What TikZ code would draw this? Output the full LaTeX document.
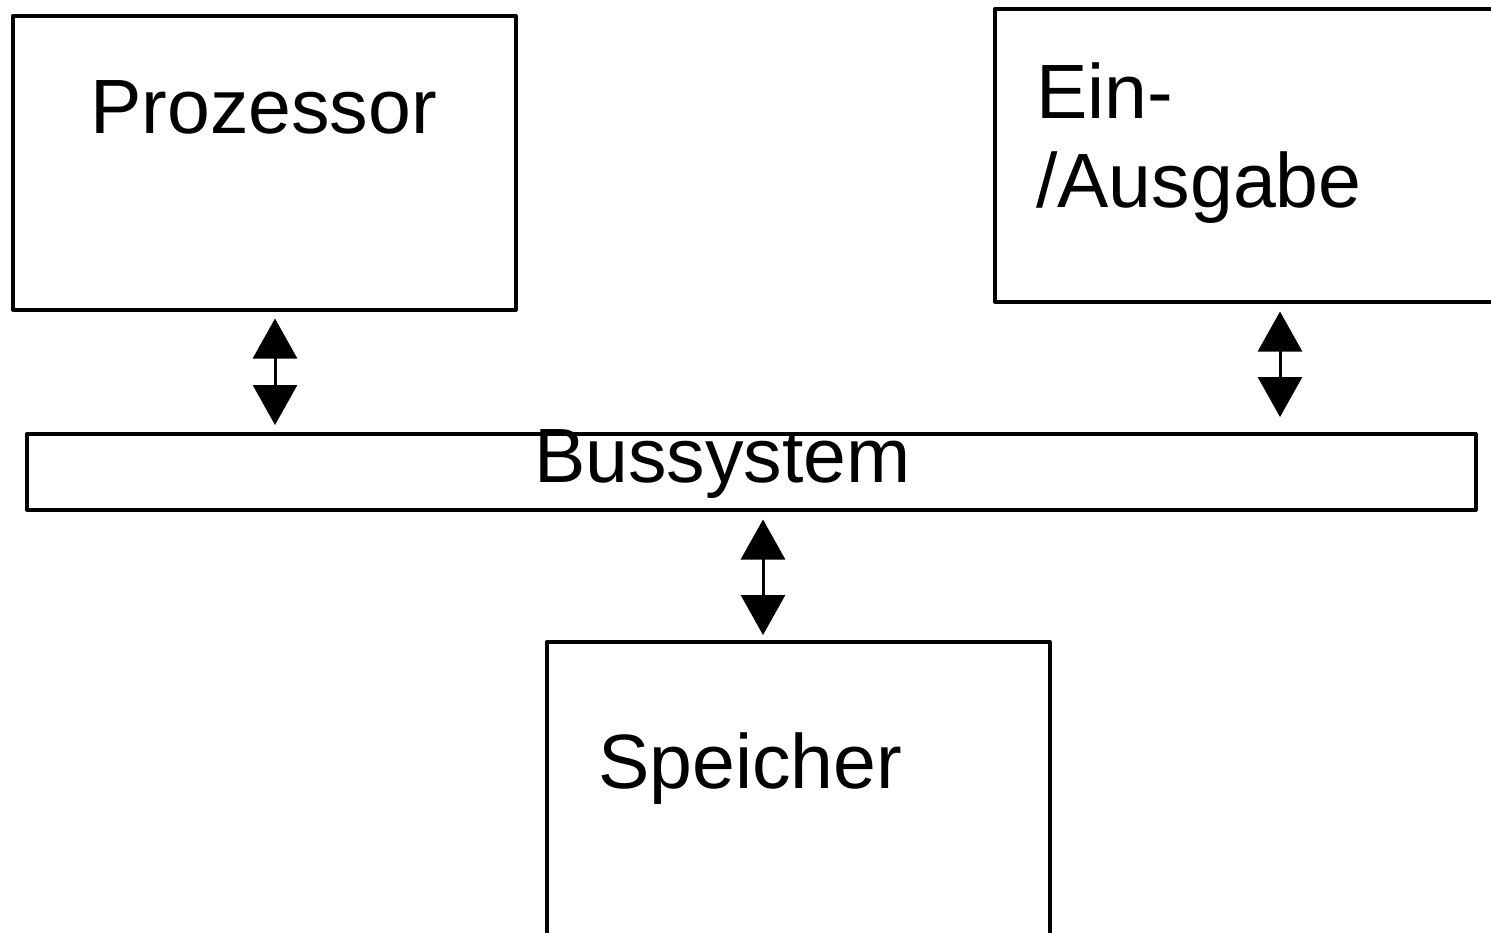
\documentclass[tikz,border=0pt]{standalone}
\usepackage{fontspec}
\setmainfont{Liberation Sans}
\usetikzlibrary{arrows.meta}
\begin{document}
\begin{tikzpicture}[x=1pt,y=-1pt,
  box/.style={draw,line width=3.5pt,line join=round,rectangle,inner sep=0pt,anchor=north west},
  lbl/.style={inner sep=0pt,anchor=base west,font=\fontsize{77}{89}\selectfont,align=left},
  biarrow/.style={line width=3pt,{Triangle[width=44pt,length=40pt]}-{Triangle[width=44pt,length=40pt]}}]
\useasboundingbox[fill=white] (0,0) rectangle (1491,932);
\node[box,minimum width=503pt,minimum height=294pt] (proz) at (11,14) {};
\node[box,minimum width=520pt,minimum height=293pt] (eag) at (993,7) {};
\node[box,minimum width=1449pt,minimum height=76pt] (bus) at (25,432) {};
\node[box,minimum width=503pt,minimum height=320pt] (mem) at (545,640) {};
\node[lbl] (prozt) at (90,133) {Prozessor};
\node[lbl] (eagt) at (1036,207) {Ein-\\/Ausgabe};
\node[lbl] (bust) at (534,482) {Bussystem};
\node[lbl] (memt) at (598,788) {Speicher};
\coordinate (a1) at (275,0);
\coordinate (a2) at (1280,0);
\coordinate (a3) at (763,0);
\draw[biarrow,shorten <=7pt,shorten >=7pt] (proz.south -| a1) -- (bus.north -| a1);
\draw[biarrow,shorten <=8pt,shorten >=15pt] (eag.south -| a2) -- (bus.north -| a2);
\draw[biarrow,shorten <=8pt,shorten >=5pt] (bus.south -| a3) -- (mem.north -| a3);
\end{tikzpicture}
\end{document}
